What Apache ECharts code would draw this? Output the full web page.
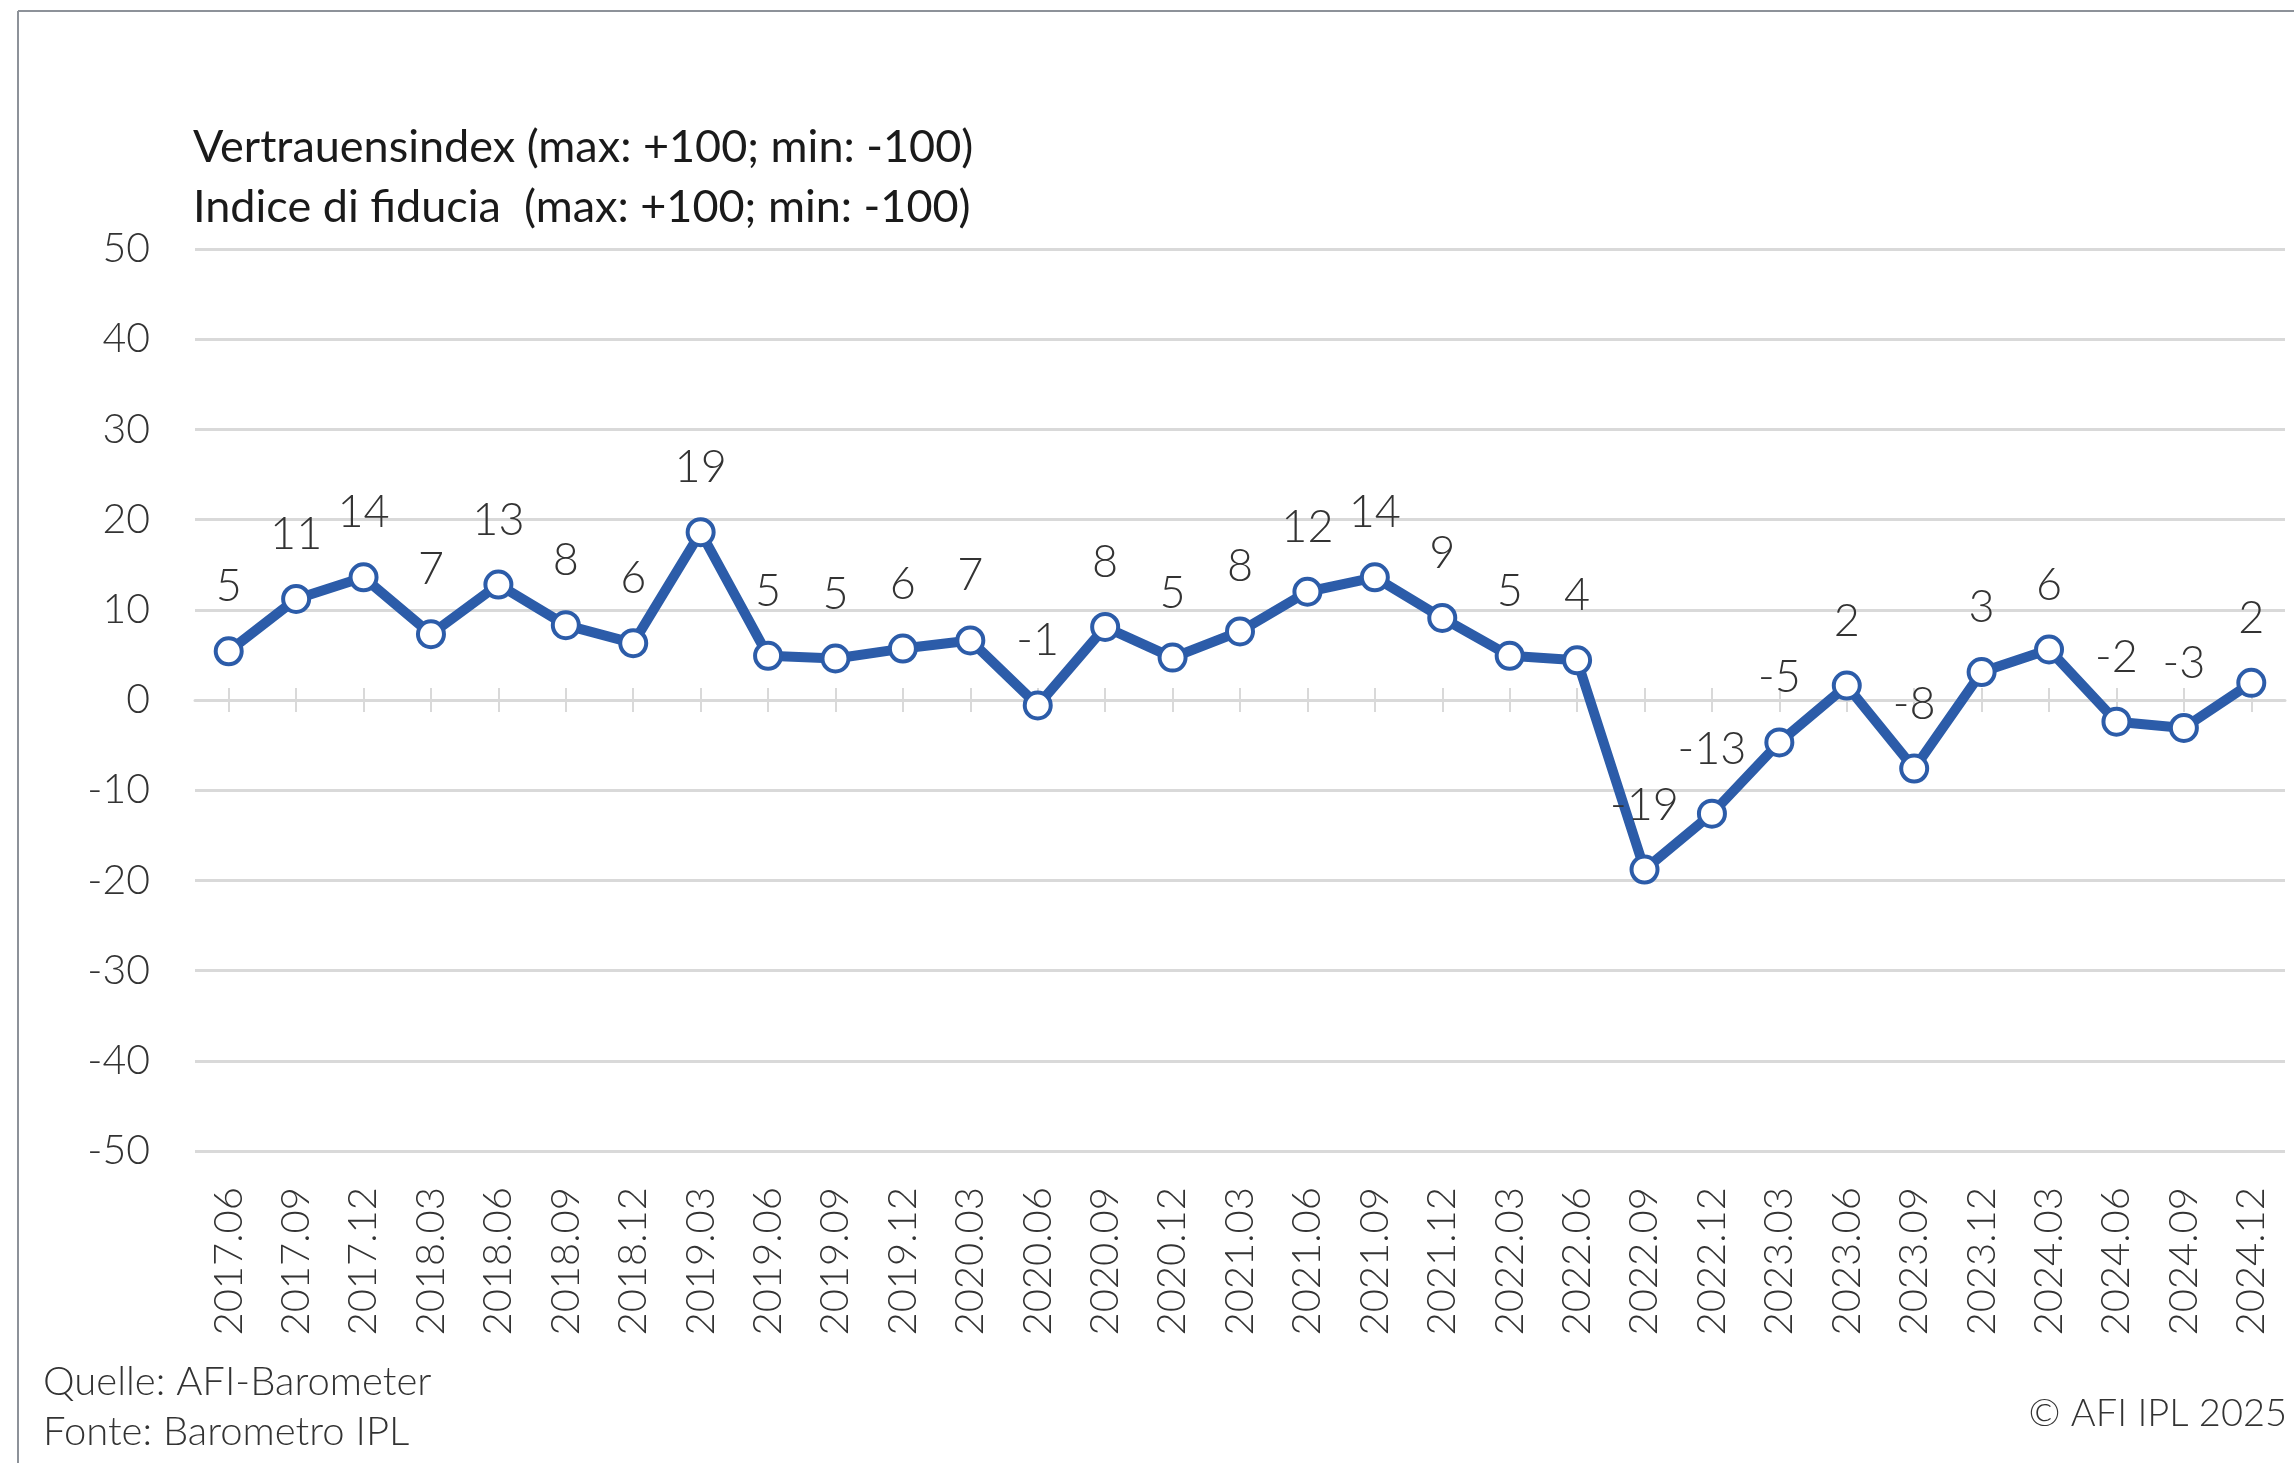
<!DOCTYPE html>
<html lang="de">
<head>
    <meta charset="UTF-8">
    <title>Vertrauensindex</title>
    <script src="https://cdn.jsdelivr.net/npm/echarts@6/dist/echarts.min.js"></script>
    <style>
        html, body { margin: 0; padding: 0; background: #fff; }
        #main { width: 2294px; height: 1463px; }
    </style>
</head>
<body>
<div id="main"></div>
<script type="text/javascript">
// Quartale
var categories = ['2017.06', '2017.09', '2017.12', '2018.03', '2018.06', '2018.09', '2018.12',
    '2019.03', '2019.06', '2019.09', '2019.12', '2020.03', '2020.06', '2020.09', '2020.12',
    '2021.03', '2021.06', '2021.09', '2021.12', '2022.03', '2022.06', '2022.09', '2022.12',
    '2023.03', '2023.06', '2023.09', '2023.12', '2024.03', '2024.06', '2024.09', '2024.12'];

// Vertrauensindex
var values = [5.4, 11.2, 13.6, 7.3, 12.8, 8.3, 6.3,
    18.6, 4.9, 4.6, 5.7, 6.6, -0.6, 8.1, 4.7,
    7.6, 12.0, 13.6, 9.1, 4.9, 4.4, -18.8, -12.6,
    -4.7, 1.6, -7.6, 3.1, 5.6, -2.4, -3.1, 1.9];

var yMin = -50, yMax = 50, yStep = 10;

var titleLines = ['Vertrauensindex (max: +100; min: -100)', 'Indice di fiducia  (max: +100; min: -100)'];
var sourceLines = ['Quelle: AFI-Barometer', 'Fonte: Barometro IPL'];
var copyright = '\u00a9 AFI IPL 2025';

var font = "Lato, sans-serif";
var blue = '#2c5ca9';
var grey = '#d9d9d9';
var textGrey = '#333333';

var grid = { left: 195, right: 9, top: 249, bottom: 312 };

var myChart = echarts.init(document.getElementById('main'));
var option = {
    backgroundColor: '#fff',
    animation: false,
    textStyle: { fontFamily: font },
    grid: [
        { left: grid.left, right: grid.right, top: grid.top, bottom: grid.bottom },
        { left: grid.left, right: grid.right, top: grid.top, bottom: grid.bottom }
    ],
    xAxis: [
        {
            // labels at the bottom
            type: 'category', gridIndex: 0, position: 'bottom', data: categories,
            axisLine: { show: false, onZero: false },
            axisTick: { show: false },
            axisLabel: { rotate: 90, margin: 36, fontSize: 40, fontWeight: 300, color: textGrey, fontFamily: font }
        },
        {
            // zero line + ticks upward
            type: 'category', gridIndex: 0, position: 'top', data: categories,
            axisLine: { show: true, onZero: true, lineStyle: { color: grey, width: 3 } },
            axisTick: { show: true, alignWithLabel: true, length: 12, lineStyle: { color: grey, width: 2 } },
            axisLabel: { show: false }
        },
        {
            // ticks downward
            type: 'category', gridIndex: 1, position: 'bottom', data: categories,
            axisLine: { show: false, onZero: true },
            axisTick: { show: true, alignWithLabel: true, length: 12, lineStyle: { color: grey, width: 2 } },
            axisLabel: { show: false }
        }
    ],
    yAxis: [
        {
            type: 'value', gridIndex: 0, min: yMin, max: yMax, interval: yStep,
            axisLine: { show: false },
            axisTick: { show: false },
            splitLine: { lineStyle: { color: grey, width: 3 } },
            axisLabel: { margin: 45, fontSize: 41, fontWeight: 300, color: textGrey, fontFamily: font }
        },
        {
            type: 'value', gridIndex: 1, min: yMin, max: yMax, interval: yStep,
            show: false
        }
    ],
    series: [{
        type: 'line',
        xAxisIndex: 0,
        yAxisIndex: 0,
        data: values,
        symbol: 'circle',
        symbolSize: 26,
        lineStyle: { color: blue, width: 10 },
        itemStyle: { color: '#fff', borderColor: blue, borderWidth: 4 },
        label: {
            show: true,
            position: 'top',
            distance: 27,
            fontSize: 45,
            fontWeight: 300,
            color: textGrey,
            fontFamily: font,
            formatter: function (p) { return Math.round(p.value); }
        },
        z: 5
    }],
    graphic: [
        { type: 'line', shape: { x1: 18, y1: 11, x2: 2294, y2: 11 }, style: { stroke: '#8d9299', lineWidth: 2 } },
        { type: 'line', shape: { x1: 18, y1: 11, x2: 18, y2: 1463 }, style: { stroke: '#8d9299', lineWidth: 2 } },
        { type: 'text', left: 193, top: 125, style: { text: titleLines[0], fontSize: 45, fill: '#1a1a1a', fontFamily: font } },
        { type: 'text', left: 193, top: 185, style: { text: titleLines[1], fontSize: 45, fill: '#1a1a1a', fontFamily: font } },
        { type: 'text', left: 43, top: 1362, style: { text: sourceLines[0], fontSize: 40, fontWeight: 300, fill: textGrey, fontFamily: font } },
        { type: 'text', left: 43, top: 1412, style: { text: sourceLines[1], fontSize: 40, fontWeight: 300, fill: textGrey, fontFamily: font } },
        { type: 'text', right: 7, top: 1395, style: { text: copyright, fontSize: 38, fontWeight: 300, fill: textGrey, fontFamily: font } }
    ]
};
myChart.setOption(option);
</script>
</body>
</html>
